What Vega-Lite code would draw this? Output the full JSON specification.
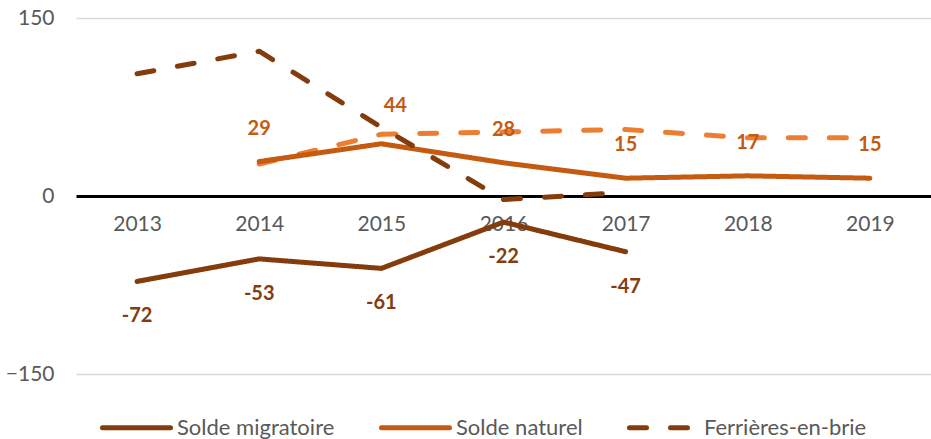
{
  "$schema": "https://vega.github.io/schema/vega-lite/v6.json",
  "width": 855,
  "height": 356,
  "autosize": {"type": "none"},
  "padding": {"left": 76, "top": 18, "right": 0, "bottom": 65},
  "config": {
    "view": {"stroke": null},
    "font": "Lato",
    "axis": {"labelFont": "Lato", "labelColor": "#595959", "labelFontSize": 21},
    "legend": {"labelFont": "Lato", "labelColor": "#595959", "labelFontSize": 22, "labelLimit": 400}
  },
  "data": {
    "values": [
      {"year": "2013", "series": "Solde migratoire", "value": -72},
      {"year": "2014", "series": "Solde migratoire", "value": -53},
      {"year": "2015", "series": "Solde migratoire", "value": -61},
      {"year": "2016", "series": "Solde migratoire", "value": -22},
      {"year": "2017", "series": "Solde migratoire", "value": -47},
      {"year": "2014", "series": "Solde naturel", "value": 29},
      {"year": "2015", "series": "Solde naturel", "value": 44},
      {"year": "2016", "series": "Solde naturel", "value": 28},
      {"year": "2017", "series": "Solde naturel", "value": 15},
      {"year": "2018", "series": "Solde naturel", "value": 17},
      {"year": "2019", "series": "Solde naturel", "value": 15},
      {"year": "2013", "series": "Ferrières-en-brie", "value": 103},
      {"year": "2014", "series": "Ferrières-en-brie", "value": 122},
      {"year": "2015", "series": "Ferrières-en-brie", "value": 58},
      {"year": "2016", "series": "Ferrières-en-brie", "value": -3},
      {"year": "2017", "series": "Ferrières-en-brie", "value": 3},
      {"year": "2014", "series": "Série 4", "value": 27},
      {"year": "2015", "series": "Série 4", "value": 52},
      {"year": "2016", "series": "Série 4", "value": 54},
      {"year": "2017", "series": "Série 4", "value": 56},
      {"year": "2018", "series": "Série 4", "value": 49},
      {"year": "2019", "series": "Série 4", "value": 49}
    ]
  },
  "encoding": {
    "x": {
      "field": "year", "type": "ordinal",
      "scale": {"type": "point", "padding": 0.5},
      "axis": {
        "title": null, "labelAngle": 0, "ticks": false, "offset": -178,
        "domainColor": "#000000", "domainWidth": 3, "labelPadding": 17
      }
    },
    "y": {
      "field": "value", "type": "quantitative",
      "scale": {"domain": [-150, 150], "nice": false, "zero": false},
      "axis": {
        "title": null, "values": [-150, 0, 150], "domain": false, "ticks": false,
        "gridColor": "#D9D9D9", "gridWidth": 1.5, "labelPadding": 22
      }
    }
  },
  "layer": [
    {
      "transform": [{"filter": "datum.series === 'Série 4'"}],
      "mark": {"type": "line", "color": "#ED7D31", "strokeWidth": 5, "strokeDash": [17, 24], "strokeCap": "round"},
      "encoding": {}
    },
    {
      "transform": [{"filter": "datum.series !== 'Série 4'"}],
      "mark": {"type": "line", "strokeWidth": 5, "strokeCap": "round", "strokeJoin": "round"},
      "encoding": {
        "color": {
          "field": "series", "type": "nominal",
          "scale": {
            "domain": ["Solde migratoire", "Solde naturel", "Ferrières-en-brie"],
            "range": ["#843C0C", "#C55A11", "#843C0C"]
          },
          "legend": {
            "title": null, "orient": "none", "direction": "horizontal",
            "legendX": 24, "legendY": 373,
            "symbolType": "stroke", "symbolSize": 4624, "symbolStrokeWidth": 5,
            "columnPadding": 36, "labelOffset": 4,
            "encode": {"symbols": {"update": {"strokeCap": {"value": "round"}}}}
          }
        },
        "strokeDash": {
          "field": "series", "type": "nominal",
          "scale": {
            "domain": ["Solde migratoire", "Solde naturel", "Ferrières-en-brie"],
            "range": [[1, 0], [1, 0], [17, 24]]
          },
          "legend": {
            "title": null, "orient": "none", "direction": "horizontal",
            "legendX": 24, "legendY": 373,
            "symbolType": "stroke", "symbolSize": 4624, "symbolStrokeWidth": 5,
            "columnPadding": 36, "labelOffset": 4,
            "encode": {"symbols": {"update": {"strokeCap": {"value": "round"}}}}
          }
        }
      }
    },
    {
      "transform": [{"filter": "datum.series === 'Solde migratoire'"}],
      "mark": {"type": "text", "color": "#843C0C", "fontWeight": "bold", "fontSize": 20, "dy": 35},
      "encoding": {"text": {"field": "value", "type": "nominal"}}
    },
    {
      "transform": [{"filter": "datum.series === 'Solde naturel' && datum.year !== '2015'"}],
      "mark": {"type": "text", "color": "#C55A11", "fontWeight": "bold", "fontSize": 20, "dy": -33},
      "encoding": {"text": {"field": "value", "type": "nominal"}}
    },
    {
      "transform": [{"filter": "datum.series === 'Solde naturel' && datum.year === '2015'"}],
      "mark": {"type": "text", "color": "#C55A11", "fontWeight": "bold", "fontSize": 20, "dy": -38, "dx": 14},
      "encoding": {"text": {"field": "value", "type": "nominal"}}
    }
  ]
}
